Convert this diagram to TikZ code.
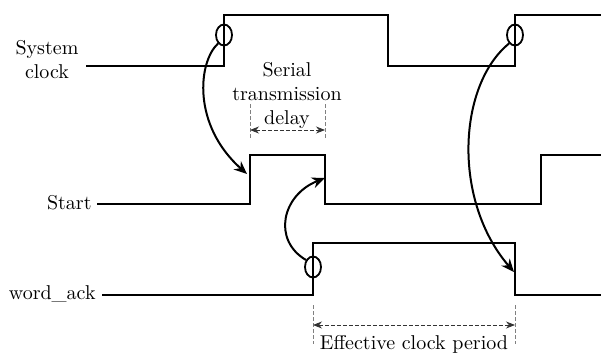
\documentclass[tikz,border=0pt]{standalone}
\usetikzlibrary{shapes.geometric,arrows.meta}
\begin{document}
\begin{tikzpicture}[x=0.5pt,y=-0.5pt,
  sig/.style={line width=1.2pt},
  ring/.style={draw,ellipse,line width=0.9pt,minimum width=8pt,minimum height=10.5pt,inner sep=0pt},
  cause/.style={line width=1pt,-{Stealth[length=6.5pt,width=5.5pt]}},
  guide/.style={gray,dashed,line width=0.3pt,dash pattern=on 2pt off 1pt},
  dim/.style={black!80,dashed,line width=0.4pt,dash pattern=on 2pt off 1pt,{Stealth[length=4.5pt,width=3.5pt]}-{Stealth[length=4.5pt,width=3.5pt]}},
  lab/.style={font=\normalsize,align=center,inner sep=0pt}]
\useasboundingbox (0,0) rectangle (601,354);
% labels
\node[lab] (lclk) at (47,60) {System\\clock};
\node[lab,anchor=east] (lst) at (92,203) {Start};
\node[lab,anchor=east] (lwa) at (96,294) {word\_ack};
% system clock
\coordinate (c0) at (86,66);
\coordinate (c1) at (224,66);
\coordinate (c2) at (224,15);
\coordinate (c3) at (388,15);
\coordinate (c4) at (388,66);
\coordinate (c5) at (515,66);
\coordinate (c6) at (515,15);
\coordinate (c7) at (601,15);
\draw[sig] (c0) -- (c1) -- (c2) -- (c3) -- (c4) -- (c5) -- (c6) -- (c7);
% start
\coordinate (s0) at (97,204);
\coordinate (s1) at (250,204);
\coordinate (s2) at (250,155);
\coordinate (s3) at (325,155);
\coordinate (s4) at (325,204);
\coordinate (s5) at (541,204);
\coordinate (s6) at (541,155);
\coordinate (s7) at (601,155);
\draw[sig] (s0) -- (s1) -- (s2) -- (s3) -- (s4) -- (s5) -- (s6) -- (s7);
% word_ack
\coordinate (w0) at (102,295);
\coordinate (w1) at (313,295);
\coordinate (w2) at (313,243);
\coordinate (w3) at (515,243);
\coordinate (w4) at (515,295);
\coordinate (w5) at (601,295);
\draw[sig] (w0) -- (w1) -- (w2) -- (w3) -- (w4) -- (w5);
% rings
\node[ring] (e1) at (224,35) {};
\node[ring] (e2) at (515,35) {};
\node[ring] (e3) at (313,267) {};
% causal arrows
\coordinate (t1) at (247,174);
\coordinate (t2) at (325,178);
\coordinate (t3) at (514,272);
\draw[cause] (e1.235) .. controls (198,62) and (192,125) .. (t1);
\draw[cause] (e3.135) .. controls (272,240) and (282,195) .. (t2);
\draw[cause] (e2.235) .. controls (458,85) and (452,200) .. (t3);
% serial transmission delay
\coordinate (d1a) at (250,104);
\coordinate (d1b) at (250,138);
\coordinate (d2a) at (325,104);
\coordinate (d2b) at (325,138);
\draw[guide] (d1a) -- (d1b);
\draw[guide] (d2a) -- (d2b);
\coordinate (da) at (250,130);
\coordinate (db) at (325,130);
\draw[dim] (da) -- (db);
\node[lab] (ltd) at (287,95) {Serial\\transmission\\delay};
% effective clock period
\coordinate (g1a) at (313,305);
\coordinate (g1b) at (313,344);
\coordinate (g2a) at (515,305);
\coordinate (g2b) at (515,344);
\draw[guide] (g1a) -- (g1b);
\draw[guide] (g2a) -- (g2b);
\coordinate (ea) at (313,325);
\coordinate (eb) at (515,325);
\draw[dim] (ea) -- (eb);
\node[lab] (lep) at (414,344) {Effective clock period};
\end{tikzpicture}
\end{document}
